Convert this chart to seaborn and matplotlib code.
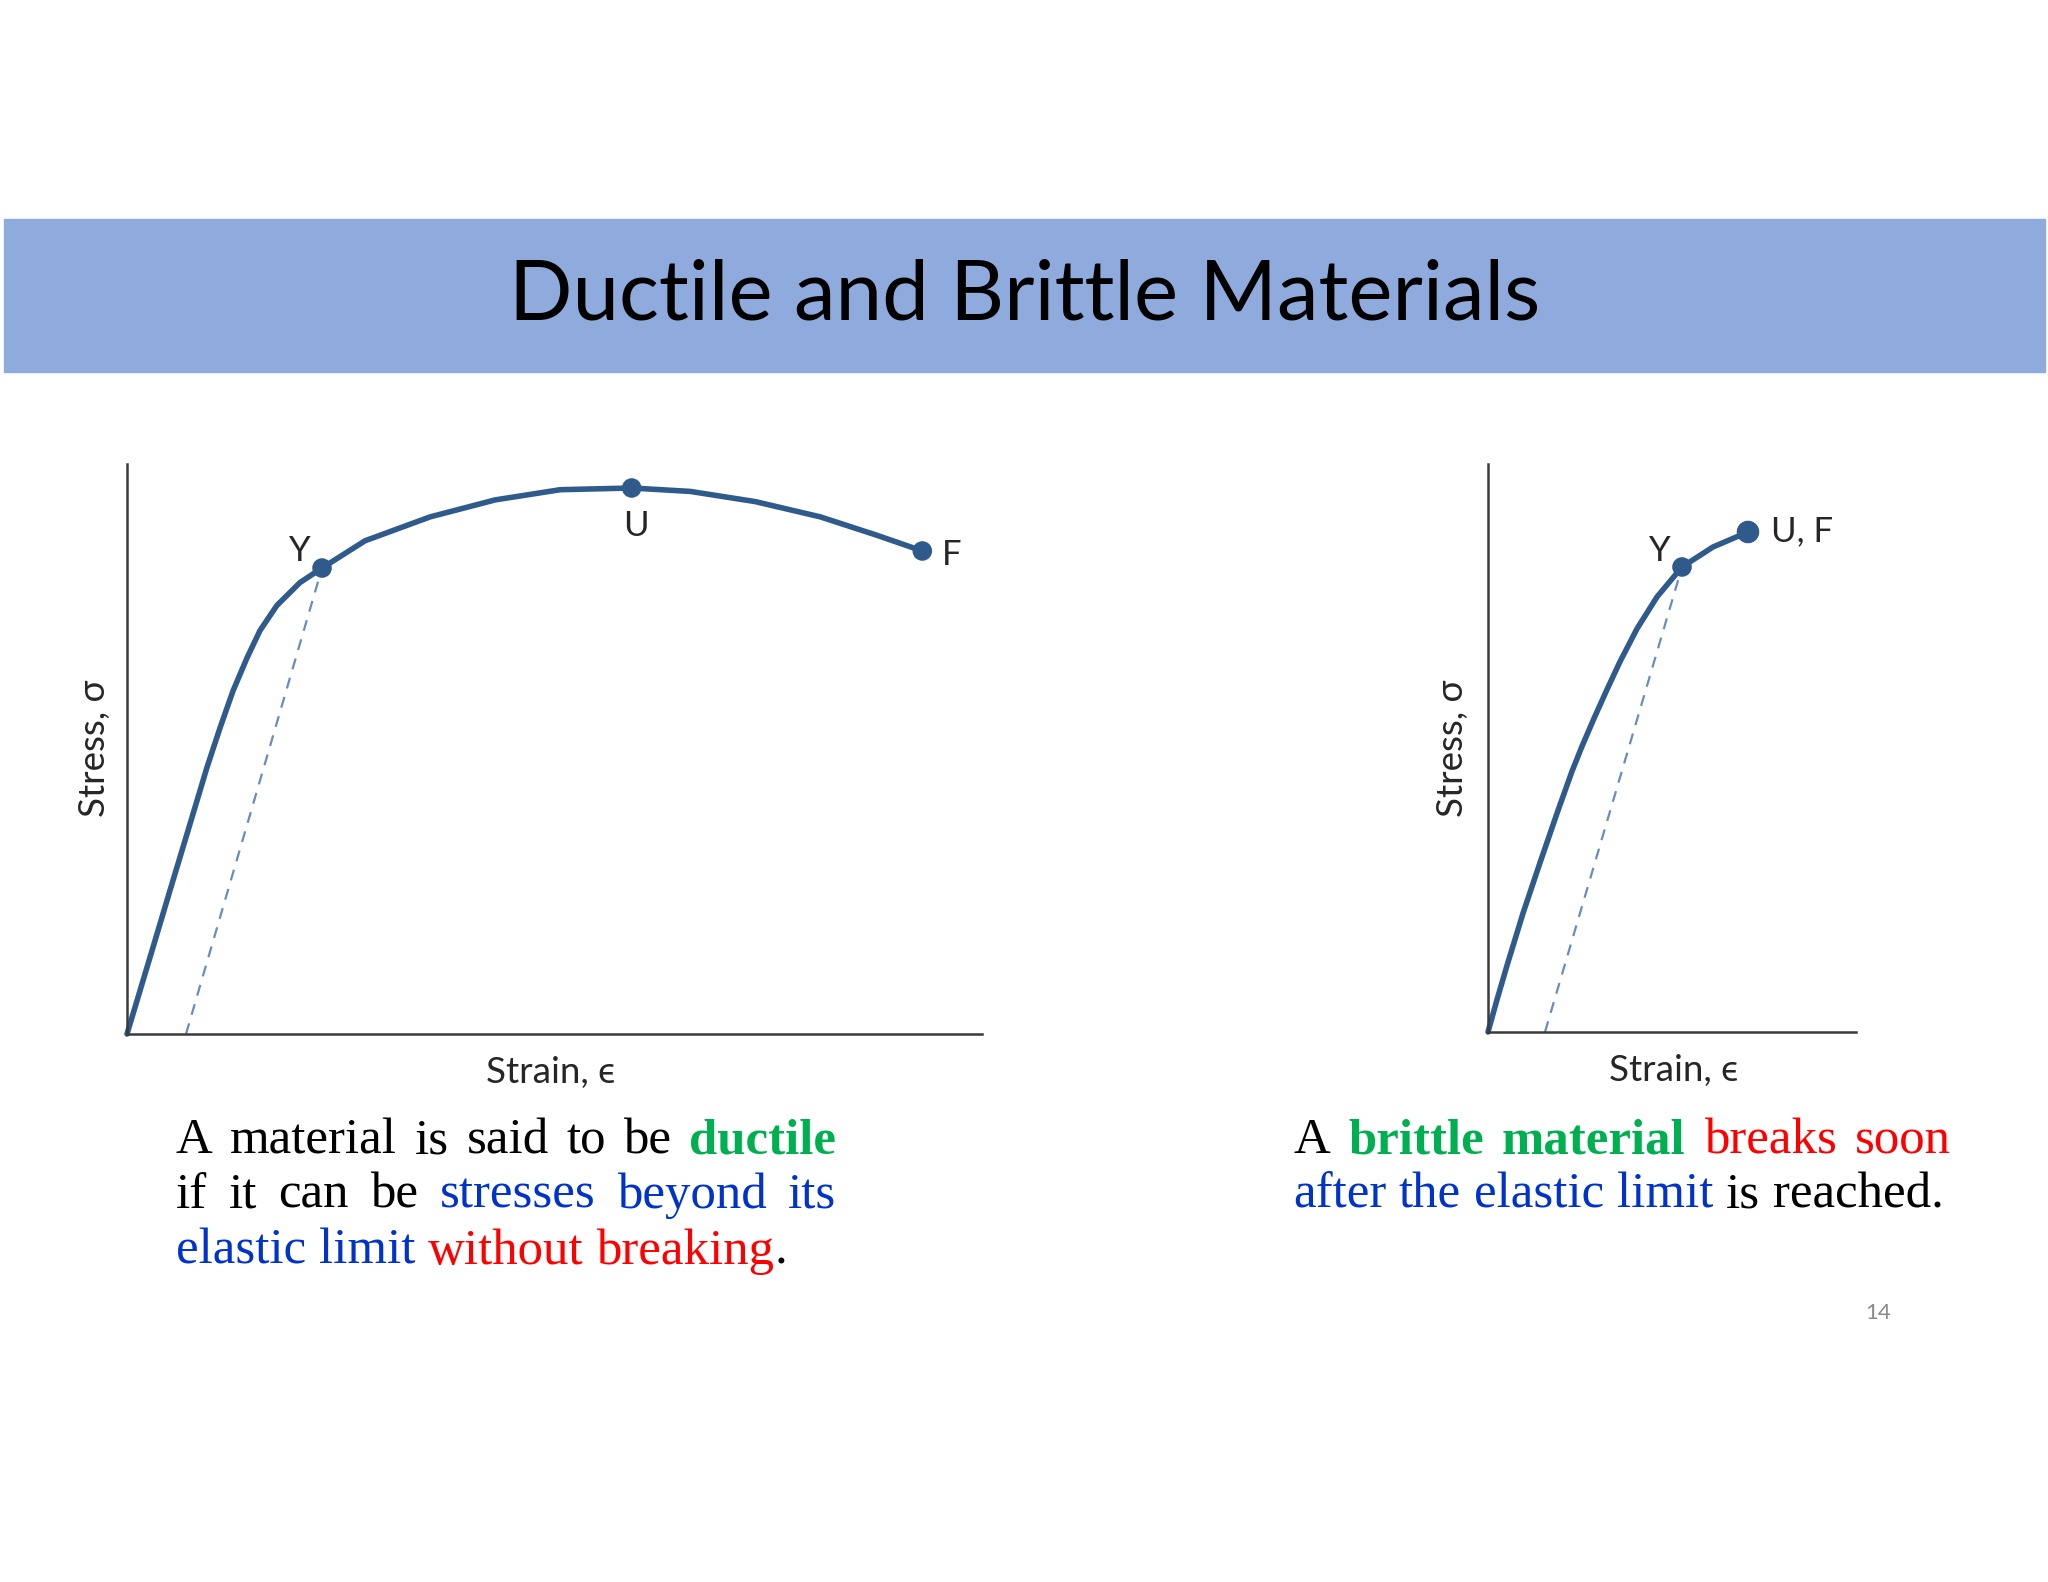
import matplotlib
matplotlib.use("Agg")
import matplotlib.pyplot as plt
import seaborn as sns
from matplotlib.patches import Rectangle

# Values, axes run 0-100 on both charts
ductile_strain = [0, 1.52, 3.04, 5.03, 7.02, 8.42, 9.36, 10.88, 12.40, 14.04, 15.56, 17.54, 20.23, 22.81,
                  27.84, 35.45, 43.05, 50.67, 59.03, 65.88, 73.49, 81.10, 87.70, 93.02]
ductile_stress = [0, 7.6, 15.2, 25.2, 35.1, 42.1, 46.8, 53.7, 60.2, 66.0, 70.8, 75.2, 79.2, 81.75,
                  86.53, 90.72, 93.70, 95.49, 95.79, 95.19, 93.40, 90.72, 87.5, 84.74]
ductile_pts_x = [22.81, 59.03, 93.02]
ductile_pts_y = [81.75, 95.79, 84.74]
ductile_labels = ["Y", "U", "F"]
ductile_label_x = [20.2, 59.5, 96.4]
ductile_label_y = [84.7, 89.1, 84.1]
ductile_offset_x = [6.9, 22.81]
ductile_offset_y = [0, 81.75]

brittle_strain = [0, 2.45, 5.16, 9.51, 14.13, 19.02, 22.83, 25.54, 28.80, 32.34, 35.87, 40.49, 45.92, 52.72,
                  61.14, 70.65]
brittle_stress = [0, 5.7, 11.7, 20.9, 29.8, 39.0, 45.9, 50.3, 55.2, 60.3, 65.2, 71.0, 76.6, 81.87,
                  85.39, 88.03]
brittle_pts_x = [52.72, 70.65]
brittle_pts_y = [81.87, 88.03]
brittle_labels = ["Y", "U, F"]
brittle_label_x = [46.7, 85.4]
brittle_label_y = [84.6, 88.1]
brittle_offset_x = [15.49, 52.72]
brittle_offset_y = [0, 81.87]

title = "Ductile and Brittle Materials"
x_label = "Strain, \u03f5"
y_label = "Stress, \u03c3"

BLACK, GREEN, BLUE, RED = "#000000", "#00B050", "#0033CC", "#FF0000"
ductile_text = [
    [("A", BLACK, False), ("material", BLACK, False), ("is", BLACK, False), ("said", BLACK, False),
     ("to", BLACK, False), ("be", BLACK, False), ("ductile", GREEN, True)],
    [("if", BLACK, False), ("it", BLACK, False), ("can", BLACK, False), ("be", BLACK, False),
     ("stresses", BLUE, False), ("beyond", BLUE, False), ("its", BLUE, False)],
    [("elastic", BLUE, False), ("limit", BLUE, False), ("without", RED, False), ("breaking", RED, False),
     (".", BLACK, False)],
]
brittle_text = [
    [("A", BLACK, False), ("brittle", GREEN, True), ("material", GREEN, True), ("breaks", RED, False),
     ("soon", RED, False)],
    [("after", BLUE, False), ("the", BLUE, False), ("elastic", BLUE, False), ("limit", BLUE, False),
     ("is", BLACK, False), ("reached.", BLACK, False)],
]

W, H = 2048, 1582
CURVE = "#2f5a8c"
DASH = "#6a8bbd"
LABEL = "#262626"
SANS = ["Lato", "DejaVu Sans"]
SERIF = ["Liberation Serif", "DejaVu Serif"]

sns.set_style("white")
plt.rcParams["font.family"] = SANS

fig = plt.figure(figsize=(W / 100, H / 100), dpi=100)
renderer = fig.canvas.get_renderer()

# title banner
fig.patches.append(Rectangle((4 / W, 1 - 372 / H), 2041 / W, 153 / H,
                             transform=fig.transFigure, color="#8faadc", zorder=0))
t = fig.text(1025 / W, 1 - 296 / H, title, ha="center", va="center", fontsize=70, color="black")
w = t.get_window_extent(renderer).width
t.set_fontsize(70 * 1032 / w)


def draw_chart(rect, strain, stress, px, py, labels, lx, ly, ox, oy, sizes):
    ax = fig.add_axes(rect)
    sns.lineplot(x=ox, y=oy, ax=ax, color=DASH, linewidth=1.6, linestyle=(0, (5, 4)),
                 estimator=None, sort=False)
    sns.lineplot(x=strain, y=stress, ax=ax, color=CURVE, linewidth=4.0, estimator=None, sort=False)
    ax.lines[-1].set_solid_joinstyle("round")
    ax.lines[-1].set_solid_capstyle("round")
    sns.scatterplot(x=px, y=py, ax=ax, color=CURVE, s=sizes, edgecolor=CURVE, zorder=5, legend=False)
    for artist in ax.lines + ax.collections:
        artist.set_clip_on(False)
    for lab, x, y in zip(labels, lx, ly):
        ax.text(x, y, lab, ha="center", va="center", fontsize=25, color=LABEL)
    ax.set_xlim(0, 100)
    ax.set_ylim(0, 100)
    ax.set_xticks([])
    ax.set_yticks([])
    ax.set_xlabel("")
    ax.set_ylabel("")
    for s in ["top", "right"]:
        ax.spines[s].set_visible(False)
    for s in ["left", "bottom"]:
        ax.spines[s].set_color("#3a3a3a")
        ax.spines[s].set_linewidth(1.8)
    return ax


draw_chart([127 / W, 1 - 1034 / H, 855 / W, 570 / H], ductile_strain, ductile_stress,
           ductile_pts_x, ductile_pts_y, ductile_labels, ductile_label_x, ductile_label_y,
           ductile_offset_x, ductile_offset_y, [170, 170, 170])
draw_chart([1488 / W, 1 - 1032 / H, 368 / W, 568 / H], brittle_strain, brittle_stress,
           brittle_pts_x, brittle_pts_y, brittle_labels, brittle_label_x, brittle_label_y,
           brittle_offset_x, brittle_offset_y, [170, 230])

# axis titles
for cx, cy in [(551, 1073), (1674, 1071)]:
    fig.text(cx / W, 1 - cy / H, x_label, ha="center", va="center", fontsize=26.5, color=LABEL)
for cx, cy in [(94, 748), (1452, 748)]:
    fig.text(cx / W, 1 - cy / H, y_label, ha="center", va="center", fontsize=26.5, color=LABEL,
             rotation=90)


def place_line(words, x0, x1, base, size, justify):
    texts = []
    for word, color, bold in words:
        texts.append(fig.text(0, 1 - base / H, word, color=color, fontsize=size, family=SERIF,
                              fontweight="bold" if bold else "normal", va="baseline"))
    widths = [tx.get_window_extent(renderer).width for tx in texts]
    space = 0.25 * size * 100 / 72
    if justify:
        space = (x1 - x0 - sum(widths)) / (len(words) - 1)
    x = x0
    for i, (tx, wd) in enumerate(zip(texts, widths)):
        # the final period sticks to the word before it
        if words[i][0] == "." and i > 0:
            x -= space
        tx.set_x(x / W)
        x += wd + space


BODY = 36.6
bases = [1153, 1208, 1264]
for i, line in enumerate(ductile_text):
    place_line(line, 176, 836, bases[i], BODY, i < len(ductile_text) - 1)
for i, line in enumerate(brittle_text):
    place_line(line, 1293, 1951, bases[i], BODY, i < len(brittle_text) - 1)

fig.text(1878 / W, 1 - 1313 / H, "14", ha="center", va="center", fontsize=16, color="#8a8a8a")

fig.savefig("out.png", dpi=100, facecolor="white")
